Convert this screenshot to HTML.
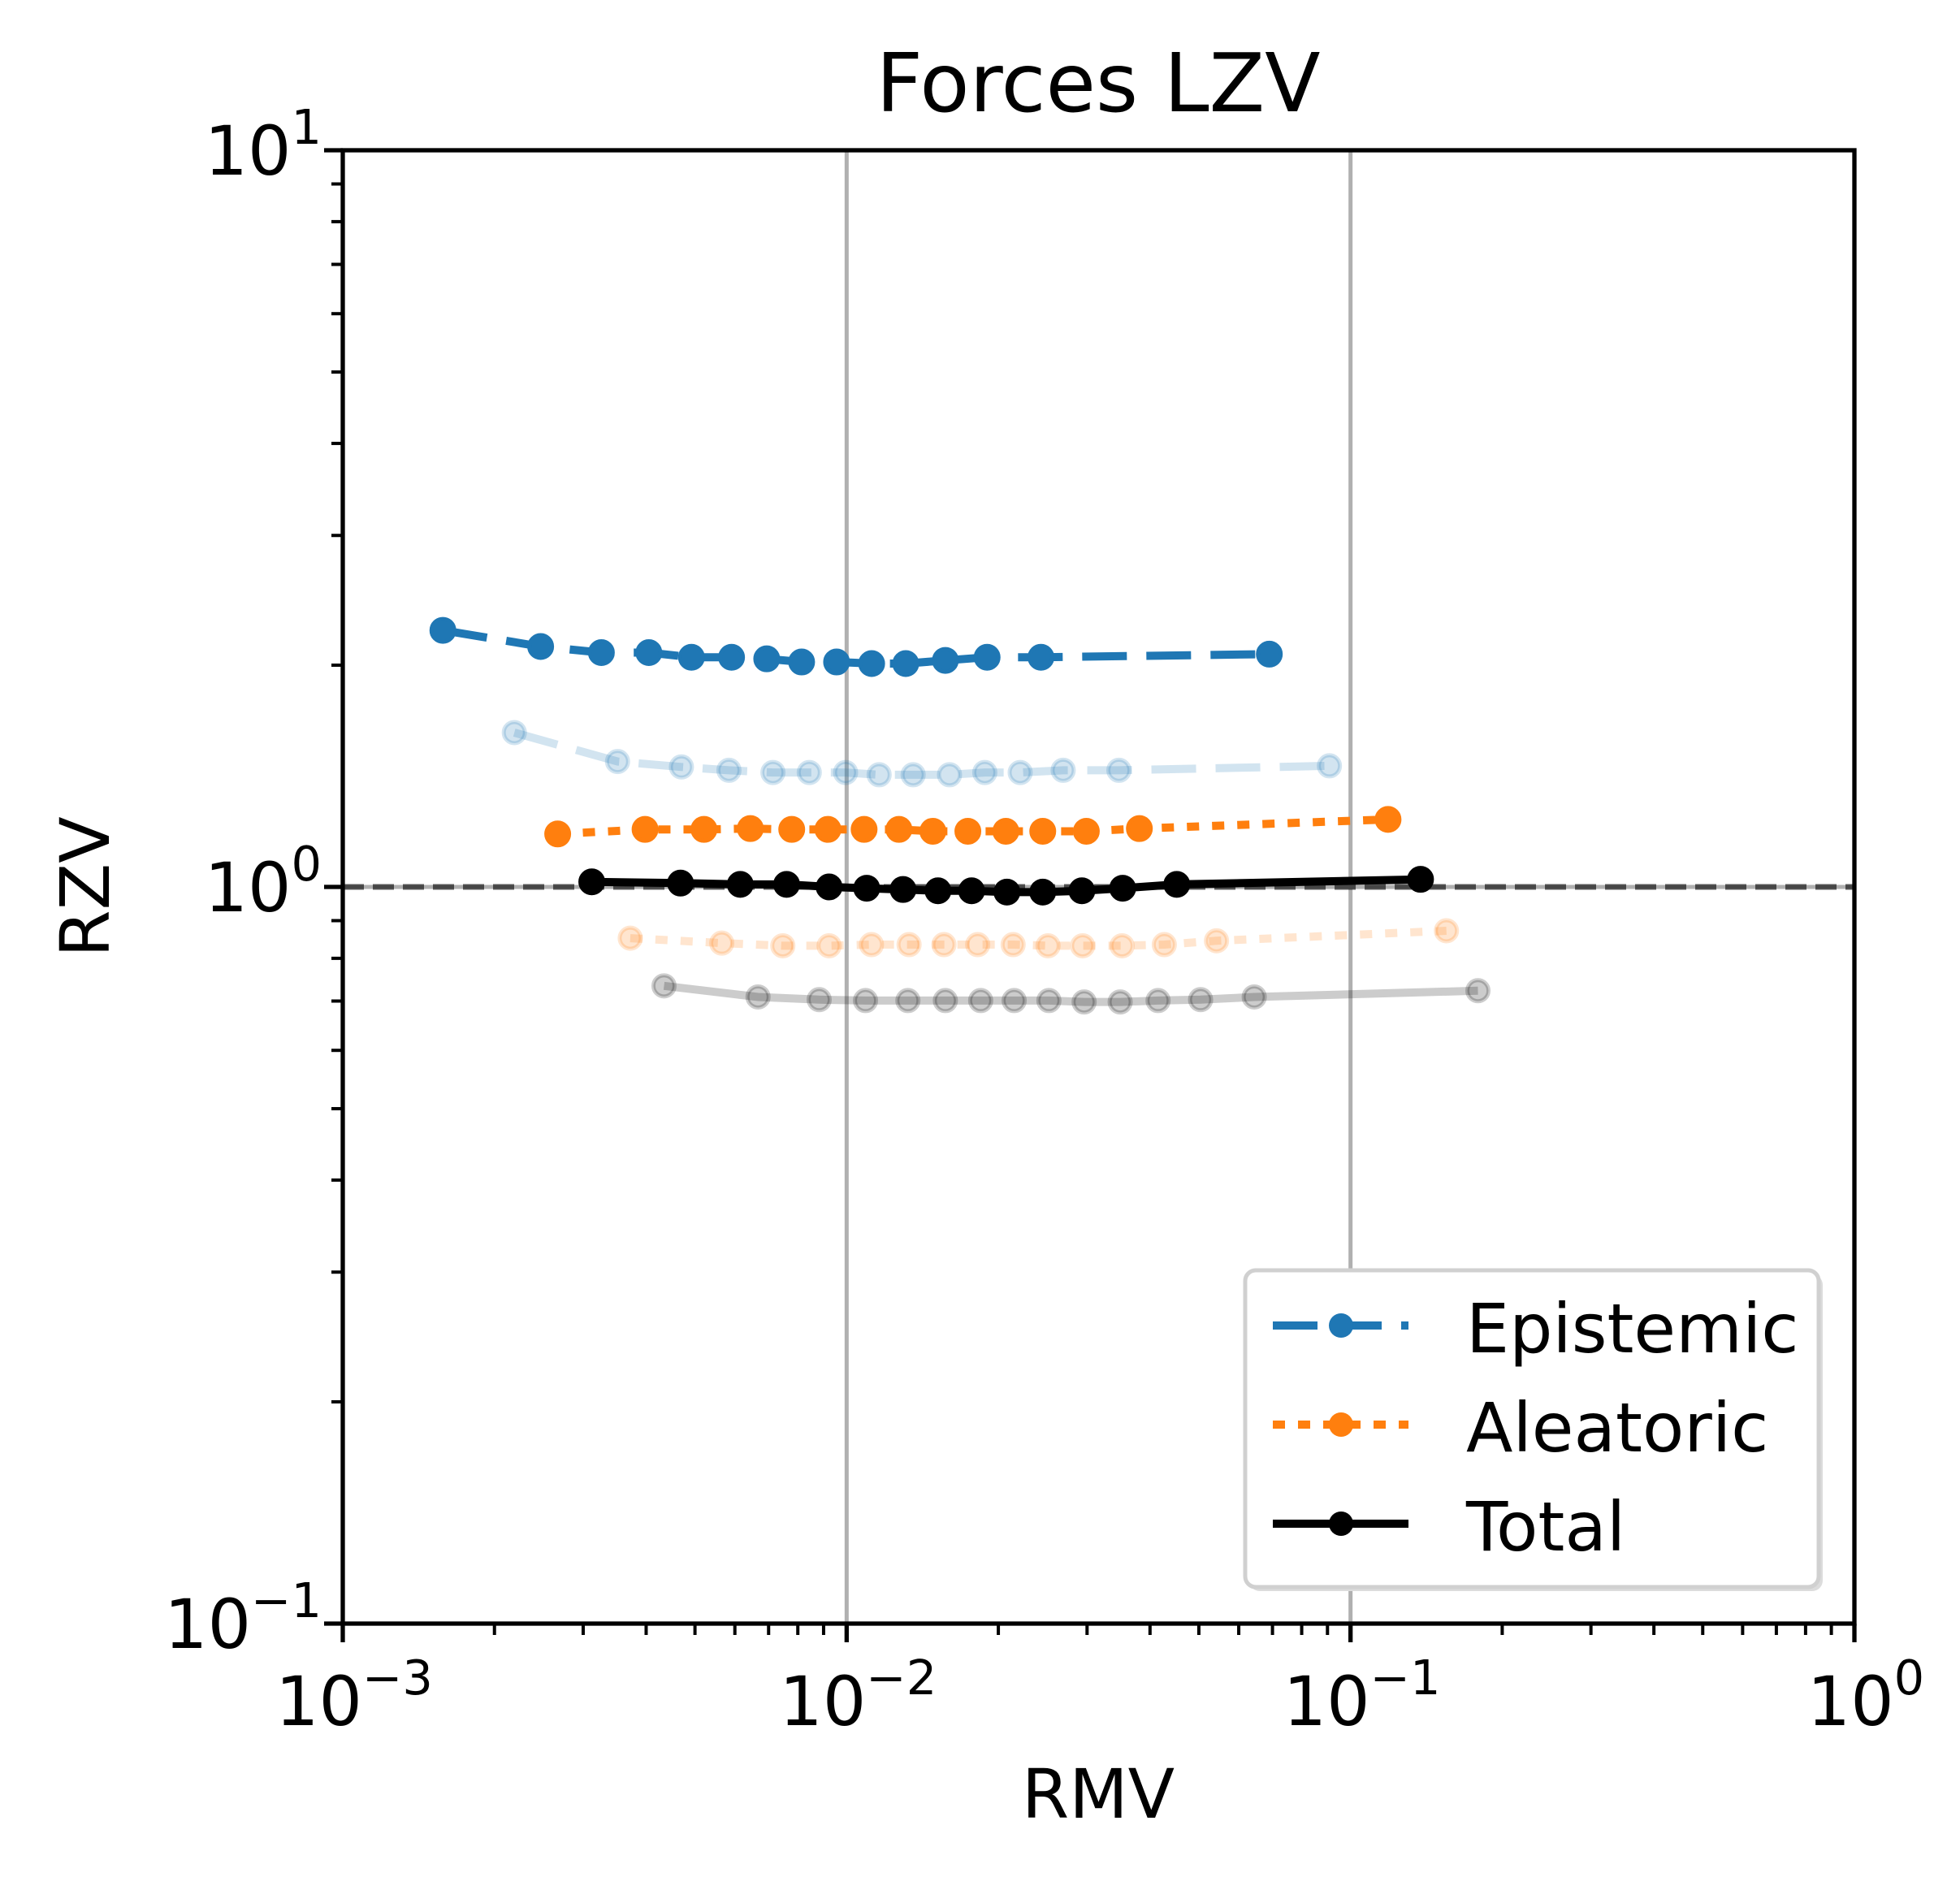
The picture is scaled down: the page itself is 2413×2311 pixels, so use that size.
<!DOCTYPE html>
<html><head><meta charset="utf-8"><style>
html,body{margin:0;padding:0;background:#fff;}
svg{display:block;font-family:"DejaVu Sans","Liberation Sans",sans-serif;}
</style></head><body>
<svg id="chart" width="2413" height="2311" viewBox="0 0 2413 2311" xmlns="http://www.w3.org/2000/svg">
<rect width="2413" height="2311" fill="#fff"/>
<g id="grid"></g><g id="series"></g><g id="axes"></g><g id="legend"></g>
<text x="1352" y="137" font-size="100" text-anchor="middle">Forces LZV</text>
<text x="1352" y="2238" font-size="84" text-anchor="middle">RMV</text>
<text x="0" y="0" font-size="84" text-anchor="middle" transform="translate(134,1092) rotate(-90)">RZV</text>
</svg>
<script>
const epiX=[0.00158,0.00247,0.00326,0.00405,0.00492,0.00591,0.00694,0.00814,0.00955,0.01121,0.0131,0.0157,0.0190,0.0243,0.069];
const epiY=[2.23,2.12,2.08,2.08,2.05,2.05,2.04,2.02,2.02,2.01,2.01,2.03,2.05,2.05,2.07];
const epiRefX=[0.00219,0.00351,0.0047,0.00584,0.00714,0.00843,0.00995,0.0116,0.01355,0.016,0.0188,0.0221,0.0269,0.0347,0.0908];
const epiRefY=[1.62,1.48,1.455,1.44,1.43,1.43,1.43,1.42,1.42,1.42,1.43,1.43,1.44,1.44,1.46];
const aleX=[0.00267,0.00398,0.00521,0.00644,0.00778,0.00918,0.01083,0.0127,0.01483,0.0174,0.0207,0.0245,0.0299,0.0381,0.1187];
const aleY=[1.18,1.197,1.197,1.20,1.197,1.197,1.197,1.197,1.19,1.19,1.19,1.19,1.19,1.20,1.235];
const aleRefX=[0.00372,0.00565,0.00747,0.00923,0.0112,0.0133,0.0156,0.0182,0.0214,0.0251,0.0294,0.0352,0.0427,0.0542,0.155];
const aleRefY=[0.852,0.839,0.832,0.832,0.835,0.835,0.835,0.835,0.835,0.832,0.832,0.832,0.835,0.845,0.872];
const totX=[0.00312,0.00468,0.00615,0.0076,0.00923,0.01096,0.01294,0.01518,0.0177,0.0208,0.0245,0.0293,0.0353,0.0452,0.1377];
const totY=[1.016,1.012,1.008,1.008,1.0,0.996,0.992,0.988,0.988,0.984,0.984,0.988,0.996,1.008,1.024];
const totRefX=[0.00434,0.00667,0.00882,0.0109,0.01323,0.0157,0.01845,0.0215,0.0252,0.0296,0.0349,0.0415,0.0504,0.0644,0.179];
const totRefY=[0.734,0.709,0.703,0.701,0.701,0.701,0.701,0.701,0.701,0.698,0.698,0.701,0.703,0.709,0.723];
const xTickExp=[-3,-2,-1,0];
const yTickExp=[-1,0,1];

const NS="http://www.w3.org/2000/svg";
const L=422,R=2283,T=185,B=1999;
const X=v=>L+(Math.log10(v)+3)/3*(R-L);
const Y=v=>B-(Math.log10(v)+1)/2*(B-T);
function mk(tag,attrs,parent){const e=document.createElementNS(NS,tag);for(const k in attrs)e.setAttribute(k,attrs[k]);parent.appendChild(e);return e;}
const grid=document.getElementById('grid'),ser=document.getElementById('series'),axes=document.getElementById('axes'),leg=document.getElementById('legend');

xTickExp.forEach(e=>{const x=X(Math.pow(10,e));const g=mk('line',{x1:x,x2:x,y1:T,y2:B,stroke:'#b0b0b0','stroke-width':5},grid);

});
yTickExp.forEach(e=>{const y=Y(Math.pow(10,e));const g=mk('line',{x1:L,x2:R,y1:y,y2:y,stroke:'#b0b0b0','stroke-width':5},grid);

});
const ref=mk('line',{x1:L,x2:R,y1:Y(1),y2:Y(1),stroke:'#000','stroke-opacity':0.6,'stroke-width':7,'stroke-dasharray':'26 11'},grid);



function series(xs,ys,color,dash,op,name){
  const g=mk('g',{},ser);
  
  
  const pts=xs.map((x,i)=>X(x).toFixed(1)+','+Y(ys[i]).toFixed(1)).join(' ');
  const a={points:pts,fill:'none',stroke:color,'stroke-width':10,'stroke-opacity':op};
  if(dash)a['stroke-dasharray']=dash;
  mk('polyline',a,g);
  xs.forEach((x,i)=>{const c=mk('circle',{cx:X(x),cy:Y(ys[i]),r:op<1?13:14,fill:color,'fill-opacity':op,stroke:color,'stroke-opacity':op,'stroke-width':5},g);
  
  });
}
series(epiRefX,epiRefY,'#1f77b4','55 24',0.2,'epistemic-ref-series');
series(aleRefX,aleRefY,'#ff7f0e','15 16',0.2,'aleatoric-ref-series');
series(totRefX,totRefY,'#000','',0.2,'total-ref-series');
series(epiX,epiY,'#1f77b4','55 24',1,'epistemic-series');
series(aleX,aleY,'#ff7f0e','15 16',1,'aleatoric-series');
series(totX,totY,'#000','',1,'total-series');

const fr=mk('rect',{x:L,y:T,width:R-L,height:B-T,fill:'none',stroke:'#000','stroke-width':5.3},axes);


for(let e=-3;e<0;e++)for(let m=2;m<=9;m++){const x=X(m*Math.pow(10,e));mk('line',{x1:x,x2:x,y1:B,y2:B+14,stroke:'#000','stroke-width':4},axes);}
for(let e=-1;e<1;e++)for(let m=2;m<=9;m++){const y=Y(m*Math.pow(10,e));mk('line',{x1:L,x2:L-14,y1:y,y2:y,stroke:'#000','stroke-width':4},axes);}
function expLabel(x,y,exp,anchor,name){
  const t=mk('text',{x:x,y:y,'font-size':84,'text-anchor':anchor,fill:'#000'},axes);
  
  
  const a=mk('tspan',{},t);a.textContent='10';
  const b=mk('tspan',{dy:-38,'font-size':59},t);b.textContent=exp<0?'\u2212'+(-exp):String(exp);
}
xTickExp.forEach(e=>{const x=X(Math.pow(10,e));mk('line',{x1:x,x2:x,y1:B,y2:B+23,stroke:'#000','stroke-width':5.3},axes);
 expLabel(x+14,2124,e,'middle','x-tick-label');});
yTickExp.forEach(e=>{const y=Y(Math.pow(10,e));mk('line',{x1:L,x2:L-23,y1:y,y2:y,stroke:'#000','stroke-width':5.3},axes);
 expLabel(396,y+30,e,'end','y-tick-label');});

mk('rect',{x:1538,y:1569,width:706,height:390,rx:13,fill:'#dcdcdc'},leg);
mk('rect',{x:1533,y:1564,width:706,height:390,rx:13,fill:'#fff',stroke:'#d0d0d0','stroke-width':5},leg);
const items=[['Epistemic','#1f77b4','55 24',1632,1665],['Aleatoric','#ff7f0e','15 16',1754,1787],['Total','#000','',1876,1909]];
items.forEach(it=>{
 const g=mk('g',{},leg);
 
 
 const a={x1:1567,x2:1734,y1:it[3],y2:it[3],stroke:it[1],'stroke-width':10};if(it[2])a['stroke-dasharray']=it[2];
 mk('line',a,g);
 mk('circle',{cx:1651,cy:it[3],r:15,fill:it[1]},g);
 const tx=mk('text',{x:1805,y:it[4],'font-size':84},g);tx.textContent=it[0];
});
</script>
</body></html>
